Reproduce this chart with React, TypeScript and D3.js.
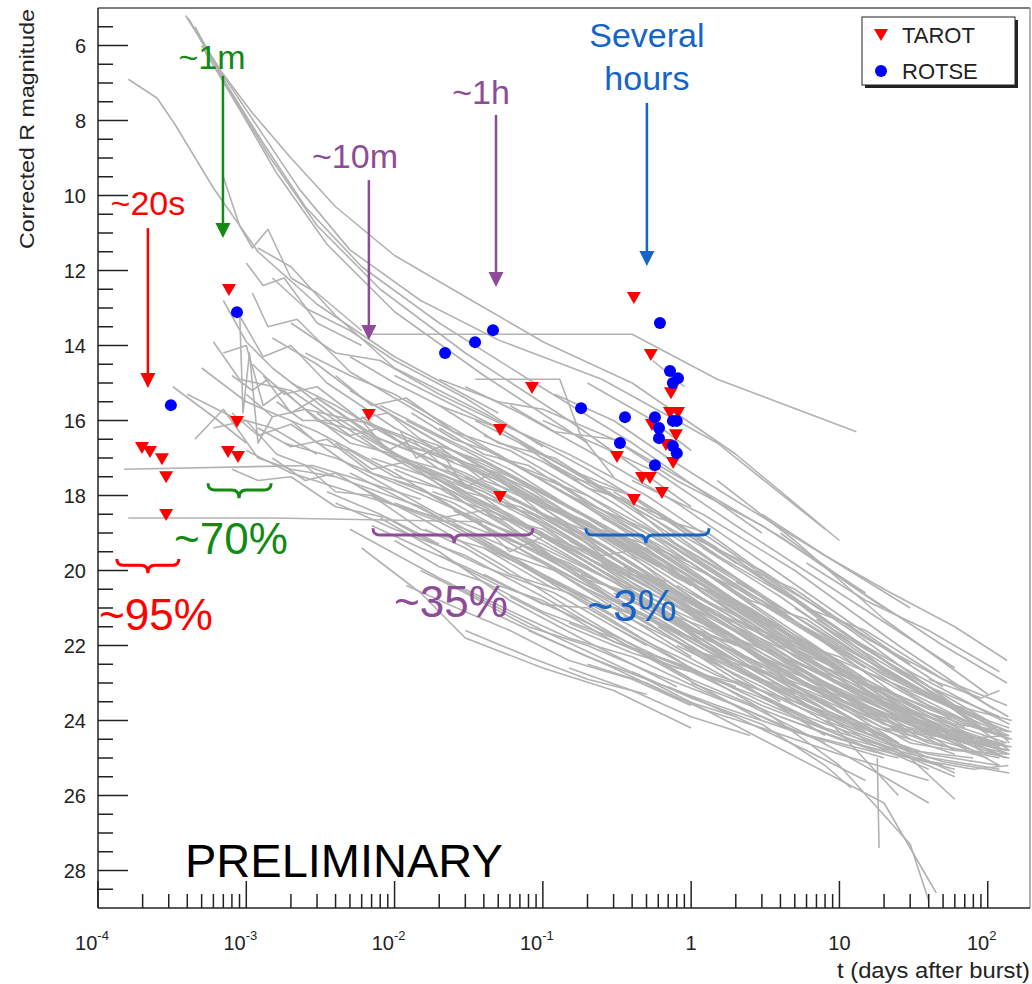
import React from 'react';
import * as d3 from 'd3';

const W = 1032, H = 984;
const FONT = 'Liberation Sans, Arial, Helvetica, sans-serif';

// afterglow light curves, [t (days after burst), corrected R mag]
const lightCurves: [number, number][][] = [
  // bright early bundle
  [[3.9e-4, 5.2], [6.6e-4, 6.65], [1.23e-3, 8.25], [2.3e-3, 9.85], [5e-3, 11.45], [1.5e-2, 12.8], [5e-2, 13.85], [0.25, 14.9], [1.5, 16.6], [8, 18.9]],
  [[4.1e-4, 5.3], [7e-4, 6.9], [1.3e-3, 8.6], [2.5e-3, 10.3], [6e-3, 11.9], [2e-2, 13.4], [8e-2, 14.9], [0.4, 16.6], [3, 19.0]],
  [[4.5e-4, 5.5], [8e-4, 7.3], [1.4e-3, 8.9], [3e-3, 10.8], [8e-3, 12.5], [3e-2, 14.2], [0.15, 16.0], [1, 18.3]],
  [[4e-4, 5.25], [6.8e-4, 6.7], [1.1e-3, 7.8], [2e-3, 9.0], [4e-3, 10.3], [1e-2, 11.6], [3e-2, 12.7], [0.1, 13.9], [0.4, 15.0], [2, 16.9], [10, 19.2]],
  [[5e-4, 6.0], [9e-4, 7.7], [1.6e-3, 9.4], [3.5e-3, 11.3], [1e-2, 13.1], [4e-2, 14.8], [0.2, 16.6]],
  [[1.6e-4, 6.9], [2.5e-4, 7.4], [3.3e-4, 8.1], [6e-4, 9.8], [1.2e-3, 11.5], [3e-3, 12.9], [1e-2, 14.3], [5e-2, 15.8]],
  [[7e-4, 9.5], [9e-4, 10.8], [1.1e-3, 11.4], [1.4e-3, 10.9], [2e-3, 12.2], [3e-3, 12.6], [6e-3, 13.6]],
  [[1.5e-3, 12.2], [2.5e-3, 13.0], [5e-3, 13.6], [1e-2, 14.4], [3e-2, 15.4], [0.1, 16.7]],
  [[2e-3, 13.4], [4e-3, 14.2], [8e-3, 14.4], [2e-2, 15.3], [6e-2, 16.2]],
  [[1e-3, 11.8], [1.3e-3, 12.4], [1.8e-3, 12.2], [3e-3, 13.4], [6e-3, 14.0]],
  // flat / plateau features
  [[7e-3, 13.7], [0.4, 13.7], [1.5, 14.9], [13, 16.3]],
  [[3.5e-2, 14.9], [0.13, 14.9], [0.18, 16.4], [0.3, 17.5]],
  [[0.55, 14.4], [0.9, 15.1]],
  [[1.5e-4, 17.3], [2.8e-3, 17.2], [6e-3, 17.6], [1.5e-2, 18.1]],
  [[1.6e-4, 18.6], [1.5e-3, 18.6], [4e-2, 18.7], [0.1, 19.3]],
  // early starters
  [[5e-4, 14.6], [1e-3, 15.5], [3e-3, 16.3], [1e-2, 17.4], [0.1, 19.8], [1, 22.3]],
  [[6e-4, 13.9], [9e-4, 14.9], [2e-3, 15.2], [8e-3, 16.8], [5e-2, 18.6], [0.5, 21.4]],
  [[7e-4, 12.8], [1e-3, 13.9], [1.5e-3, 14.6], [4e-3, 15.9], [2e-2, 17.6], [0.2, 19.9], [3, 22.6]],
  [[8e-4, 15.8], [1.2e-3, 16.4], [2e-3, 16.1], [5e-3, 17.2], [3e-2, 18.9], [0.3, 21.2]],
  [[9e-4, 13.2], [1.3e-3, 14.3], [2e-3, 14.0], [3.5e-3, 15.0], [1e-2, 16.2], [6e-2, 17.7], [0.6, 20.5], [8, 23.6]],
  [[1e-3, 16.8], [2e-3, 17.4], [6e-3, 18.0], [2e-2, 18.6], [0.15, 20.5]],
  [[6e-4, 16.2], [1e-3, 16.0], [1.6e-3, 16.9], [4e-3, 17.5], [1.5e-2, 18.3], [0.1, 20.2], [1.2, 22.8]],
  [[1.1e-3, 12.6], [1.4e-3, 13.5], [2.2e-3, 13.3], [5e-3, 14.7], [2e-2, 16.1], [0.1, 17.6], [1, 19.8], [15, 22.9]],
  [[1.3e-3, 14.8], [2e-3, 15.8], [3e-3, 15.4], [8e-3, 16.5], [3e-2, 17.4], [0.2, 19.1], [2, 21.6]],
  [[4e-4, 15.3], [8e-4, 15.9], [1.5e-3, 16.2], [3e-3, 16.9]],
  [[7e-4, 14.2], [1e-3, 14.0], [1.3e-3, 15.6], [1.8e-3, 15.2], [3e-3, 16.0], [1e-2, 17.0], [4e-2, 18.0]],
  [[9e-4, 13.0], [9.5e-4, 15.8], [1.05e-3, 14.2], [1.2e-3, 16.6], [1.5e-3, 15.9]],
  [[1.5e-3, 13.8], [3e-3, 14.5], [6e-3, 15.4], [2e-2, 16.6], [8e-2, 17.9], [0.5, 19.6], [4, 21.9]],
  [[2e-3, 15.0], [4e-3, 15.6], [1e-2, 16.5], [5e-2, 17.6], [0.4, 19.8], [3, 22.4], [30, 24.6]],
  [[1.8e-3, 16.6], [4e-3, 17.0], [1.2e-2, 17.8], [6e-2, 19.0], [0.5, 21.0], [5, 23.3]],
  [[2.5e-3, 14.2], [5e-3, 14.8], [1e-2, 15.3], [3e-2, 16.4], [0.15, 18.0], [1, 20.1], [10, 22.6]],
  [[3e-3, 16.0], [6e-3, 16.3], [1.5e-2, 16.9], [5e-2, 17.9], [0.3, 19.5], [2, 21.5], [20, 24.0]],
  [[3.2e-4, 15.1], [6e-4, 15.9], [1e-3, 16.6]],
  [[4.5e-4, 16.5], [7e-4, 15.7], [1.2e-3, 17.0], [2e-3, 17.3], [4e-3, 17.5]],
  [[1.2e-3, 11.4], [2e-3, 11.9], [4e-3, 13.2], [1e-2, 14.6], [4e-2, 15.8], [0.2, 17.3], [1.5, 19.4]],
  [[8e-4, 14.8], [1.1e-3, 15.2], [1.4e-3, 14.9], [2.5e-3, 15.7], [7e-3, 16.1], [2.5e-2, 17.1]],
  [[1.6e-3, 15.5], [2.4e-3, 16.0], [5e-3, 16.0], [1.2e-2, 17.1], [4e-2, 17.9], [0.12, 18.9]],
  [[1e-3, 15.3], [1.5e-3, 15.9], [2.5e-3, 15.7], [5e-3, 16.6], [1e-2, 16.9], [3e-2, 18.0], [0.1, 19.0]],
  [[1.2e-3, 16.2], [2e-3, 16.7], [3.5e-3, 16.5], [7e-3, 17.4], [1.5e-2, 17.8], [4e-2, 18.8], [0.15, 20.0]],
  [[1.5e-3, 17.0], [2.5e-3, 17.6], [4e-3, 17.4], [8e-3, 18.1], [2e-2, 18.7], [6e-2, 19.7], [0.2, 20.8]],
  [[2e-3, 16.0], [3e-3, 16.6], [5e-3, 16.8], [1e-2, 17.5], [2.5e-2, 17.9], [8e-2, 18.9], [0.3, 20.0]],
  [[2.5e-3, 17.2], [4e-3, 17.9], [7e-3, 18.0], [1.5e-2, 18.9], [4e-2, 19.4], [0.12, 20.5]],
  [[3e-3, 15.4], [5e-3, 16.0], [9e-3, 15.8], [2e-2, 16.9], [5e-2, 17.4], [0.15, 18.6], [0.6, 19.9]],
  [[1.1e-3, 14.5], [1.8e-3, 15.3], [3e-3, 15.1], [6e-3, 16.0], [1.5e-2, 16.6], [5e-2, 17.6], [0.2, 18.8], [1, 20.4]],
  [[8e-4, 17.3], [1.2e-3, 17.6], [2e-3, 17.5], [4e-3, 18.3], [9e-3, 18.6], [2e-2, 19.3]],
  [[4e-3, 14.8], [7e-3, 15.6], [1.2e-2, 15.4], [2.5e-2, 16.3], [6e-2, 16.8], [0.2, 18.0], [0.8, 19.3], [4, 21.0]],
  [[5e-3, 14.3], [1e-2, 15.0], [2e-2, 15.6], [5e-2, 16.6], [0.12, 17.0], [0.4, 18.3], [1.5, 19.6]],
  // middle starters
  [[5e-3, 15.2], [1e-2, 15.9], [3e-2, 17.0], [0.1, 18.2], [0.5, 19.9], [3, 22.0], [30, 24.5]],
  [[6e-3, 16.4], [1.5e-2, 17.3], [5e-2, 18.4], [0.2, 19.8], [1, 21.5], [8, 23.7]],
  [[7e-3, 17.0], [2e-2, 17.6], [6e-2, 18.5], [0.3, 20.2], [2, 22.6], [40, 25.0]],
  [[8e-3, 15.6], [2e-2, 16.4], [6e-2, 17.3], [0.2, 18.6], [0.8, 20.1], [5, 22.3], [60, 24.8]],
  [[1e-2, 14.8], [2e-2, 15.4], [5e-2, 16.2], [0.2, 17.6], [1, 19.4], [10, 22.0]],
  [[1e-2, 18.2], [3e-2, 18.9], [0.1, 19.8], [0.5, 21.2], [3, 23.0]],
  [[1.2e-2, 16.0], [3e-2, 16.8], [0.1, 17.9], [0.4, 19.2], [2, 20.9], [20, 23.5], [120, 25.2]],
  [[1.5e-2, 17.2], [4e-2, 17.9], [0.12, 18.9], [0.6, 20.6], [4, 22.7]],
  [[2e-2, 15.6], [5e-2, 16.2], [0.15, 17.3], [0.6, 18.7], [3, 20.7], [30, 23.6]],
  [[2e-2, 18.5], [5e-2, 19.1], [0.2, 20.4], [1, 21.9], [6, 23.6], [60, 25.4]],
  [[2.5e-2, 16.8], [6e-2, 17.5], [0.2, 18.6], [1, 20.3], [8, 22.6], [80, 24.9]],
  [[3e-2, 17.5], [8e-2, 18.3], [0.3, 19.7], [1.5, 21.3], [10, 23.4]],
  [[3e-2, 15.1], [7e-2, 15.8], [0.2, 16.8], [0.8, 18.2], [4, 20.1], [30, 22.5]],
  [[4e-2, 18.0], [0.1, 18.8], [0.4, 20.1], [2, 21.8], [20, 24.1], [135, 24.8]],
  [[4e-2, 16.4], [0.1, 17.1], [0.3, 18.2], [1.2, 19.8], [8, 21.9], [70, 24.2]],
  [[5e-2, 19.0], [0.15, 19.9], [0.5, 20.9], [2, 22.4], [15, 24.3]],
  [[5e-2, 17.0], [0.12, 17.6], [0.4, 18.9], [2, 20.8], [20, 23.5], [135, 24.6]],
  [[6e-2, 16.2], [0.15, 16.9], [0.5, 18.0], [2, 19.6], [12, 21.8], [100, 24.3]],
  [[7e-2, 18.3], [0.2, 19.2], [0.7, 20.6], [3, 22.3], [25, 24.6]],
  [[8e-2, 17.4], [0.2, 18.0], [0.6, 19.2], [2.5, 20.9], [20, 23.4], [130, 25.0]],
  [[1e-2, 17.6], [2.5e-2, 18.2], [8e-2, 19.3], [0.3, 20.8], [1.5, 22.6], [8, 24.4]],
  [[1.5e-2, 16.5], [4e-2, 17.1], [0.15, 18.3], [0.7, 19.8], [5, 22.0]],
  [[6e-3, 17.8], [1.5e-2, 18.6], [5e-2, 19.8], [0.2, 21.3], [1, 22.9]],
  [[4e-3, 18.2], [1e-2, 18.9], [3e-2, 19.6], [0.1, 20.7], [0.5, 22.3], [3, 24.0]],
  [[9e-3, 16.9], [2.5e-2, 17.4], [7e-2, 18.2], [0.25, 19.3], [1, 20.8], [6, 22.6], [50, 24.4]],
  [[1.8e-2, 17.9], [5e-2, 18.5], [0.15, 19.4], [0.6, 20.7], [3, 22.2], [30, 24.3]],
  [[1.1e-2, 16.3], [1.4e-2, 17.0], [2e-2, 16.7], [4e-2, 17.6], [9e-2, 18.1], [0.25, 19.0], [0.9, 20.2]],
  [[2.2e-2, 17.0], [3e-2, 17.8], [4.5e-2, 17.4], [0.1, 18.5], [0.3, 19.2], [1, 20.9], [4, 21.8]],
  [[3.5e-2, 18.6], [6e-2, 19.5], [0.1, 19.1], [0.25, 20.0], [0.8, 21.1], [2.5, 22.0]],
  [[6e-3, 16.0], [9e-3, 16.8], [1.3e-2, 16.5], [3e-2, 17.7], [8e-2, 18.9], [0.2, 19.5], [0.5, 20.6]],
  [[0.1, 17.0], [0.2, 17.8], [0.35, 18.1], [0.8, 19.3], [2, 20.2], [6, 21.6]],
  [[0.12, 18.6], [0.25, 19.6], [0.5, 19.4], [1.2, 20.6], [4, 21.9], [15, 23.0]],
  [[3e-3, 15.8], [5e-3, 16.4], [8e-3, 16.2], [2e-2, 17.3], [5e-2, 18.0], [0.15, 19.3], [0.5, 20.4], [2, 22.0]],
  [[4e-3, 16.6], [7e-3, 17.3], [1.2e-2, 17.1], [3e-2, 18.2], [0.1, 19.4], [0.3, 20.3], [1.5, 22.1]],
  [[5e-3, 17.4], [9e-3, 17.9], [2e-2, 18.6], [4e-2, 18.4], [0.1, 19.5], [0.4, 21.0], [2, 22.8]],
  [[3.5e-3, 17.9], [8e-3, 18.5], [1.5e-2, 19.1], [4e-2, 19.9], [0.12, 20.6], [0.5, 22.0]],
  [[6e-3, 15.9], [1.2e-2, 16.7], [2.5e-2, 17.0], [6e-2, 17.9], [0.15, 18.6], [0.5, 19.8], [2, 21.3], [10, 23.0]],
  [[8e-3, 16.7], [1.5e-2, 17.2], [3e-2, 17.9], [7e-2, 18.3], [0.2, 19.4], [0.6, 20.5], [3, 22.2]],
  [[1e-2, 17.3], [2e-2, 17.8], [4e-2, 18.5], [0.1, 18.9], [0.3, 20.1], [1, 21.4], [5, 23.1], [30, 24.8]],
  [[1.3e-2, 15.8], [2.5e-2, 16.5], [5e-2, 16.9], [0.12, 17.8], [0.4, 19.0], [1.5, 20.5], [6, 22.0]],
  [[1.6e-2, 18.9], [3e-2, 19.4], [6e-2, 20.1], [0.15, 20.6], [0.5, 21.7], [2, 23.0], [8, 24.2]],
  [[2e-2, 16.2], [4e-2, 16.9], [8e-2, 17.2], [0.2, 18.2], [0.7, 19.3], [3, 20.9], [15, 22.6]],
  [[2.5e-2, 17.6], [5e-2, 18.2], [0.1, 18.6], [0.25, 19.5], [0.8, 20.6], [3, 22.1], [15, 23.6]],
  [[3e-2, 18.9], [6e-2, 19.6], [0.12, 20.0], [0.3, 20.9], [1, 22.1], [4, 23.5]],
  [[3.5e-2, 16.0], [7e-2, 16.6], [0.15, 17.5], [0.4, 18.0], [1.2, 19.2], [5, 20.8], [25, 22.9]],
  [[4e-2, 17.3], [8e-2, 17.8], [0.2, 18.8], [0.5, 19.3], [1.5, 20.5], [6, 21.9], [30, 23.8]],
  [[5e-2, 18.5], [0.1, 19.0], [0.25, 19.9], [0.6, 20.3], [2, 21.6], [8, 23.0], [40, 24.6]],
  [[6e-2, 17.8], [0.12, 18.4], [0.3, 19.1], [0.8, 20.2], [2.5, 21.0], [10, 22.6], [60, 24.4]],
  [[7e-2, 16.6], [0.15, 17.3], [0.35, 17.9], [1, 19.1], [3, 20.0], [12, 21.6], [60, 23.6]],
  [[9e-2, 19.5], [0.18, 20.2], [0.4, 20.6], [1, 21.6], [3, 22.5], [10, 23.8]],
  [[2e-2, 14.9], [5e-2, 15.5], [0.1, 15.7], [0.3, 16.5], [1, 17.7], [4, 19.1], [20, 21.0]],
  [[6e-2, 15.6], [0.12, 16.3], [0.3, 16.5], [0.8, 17.6], [3, 18.8], [15, 20.6]],
  // lower half of the band
  [[1e-2, 19.2], [2e-2, 19.9], [4e-2, 20.3], [0.1, 21.1], [0.3, 21.8], [1, 22.9], [4, 23.9], [20, 24.9]],
  [[1.5e-2, 20.0], [3e-2, 20.6], [8e-2, 21.5], [0.2, 22.0], [0.6, 22.8], [2, 23.6], [8, 24.6]],
  [[2e-2, 19.6], [5e-2, 20.4], [0.1, 20.8], [0.3, 21.9], [1, 22.6], [3, 23.5], [15, 24.7], [60, 25.3]],
  [[3e-2, 20.5], [7e-2, 21.2], [0.15, 21.8], [0.4, 22.3], [1.2, 23.2], [5, 24.3], [25, 25.0]],
  [[4e-2, 19.4], [0.1, 20.1], [0.25, 20.9], [0.6, 21.4], [2, 22.4], [8, 23.4], [40, 24.6], [120, 25.0]],
  [[6e-2, 20.7], [0.15, 21.5], [0.4, 22.2], [1, 22.7], [3, 23.6], [12, 24.5], [50, 25.2]],
  [[8e-2, 21.6], [0.2, 22.3], [0.5, 22.9], [1.5, 23.6], [5, 24.3], [20, 25.0]],
  [[0.1, 20.2], [0.25, 20.9], [0.6, 21.3], [1.5, 22.2], [5, 23.1], [20, 24.2], [100, 25.0]],
  [[0.15, 21.4], [0.35, 22.0], [0.8, 22.6], [2, 23.0], [6, 23.9], [25, 24.8]],
  [[0.2, 22.5], [0.5, 23.0], [1.2, 23.7], [3, 24.2], [10, 24.9], [40, 25.6]],
  [[0.25, 19.8], [0.6, 20.6], [1.5, 21.3], [4, 22.3], [12, 23.0], [50, 24.2], [135, 24.7]],
  [[0.35, 21.2], [0.8, 21.9], [2, 22.6], [5, 23.5], [15, 24.1], [60, 24.9]],
  [[0.5, 22.2], [1.2, 22.8], [3, 23.4], [8, 24.2], [30, 24.9], [120, 25.3]],
  [[0.8, 20.4], [2, 21.3], [5, 22.0], [15, 23.0], [50, 23.8], [130, 24.4]],
  [[1.2, 21.8], [3, 22.5], [8, 23.3], [25, 24.0], [80, 24.8], [140, 25.0]],
  [[2, 22.9], [5, 23.6], [12, 24.2], [40, 24.9], [120, 25.2]],
  [[3, 20.9], [8, 21.8], [20, 22.8], [60, 23.7], [140, 24.2]],
  [[5, 23.5], [12, 24.2], [30, 24.8], [80, 25.0]],
  [[1, 23.0], [2.5, 23.6], [7, 24.5], [20, 25.5], [40, 26.2]],
  [[0.7, 23.1], [2, 23.9], [6, 24.8], [15, 25.6]],
  [[0.4, 22.7], [1, 23.4], [3, 24.1], [8, 25.2], [12, 25.8]],
  [[0.15, 22.6], [0.4, 23.2], [1, 23.9], [2.5, 24.4]],
  [[5e-2, 21.2], [0.12, 21.9], [0.3, 22.6], [0.8, 23.4], [2, 23.9]],
  [[3e-2, 21.6], [8e-2, 22.3], [0.2, 22.9], [0.5, 23.3]],
  [[1.2e-2, 20.4], [3e-2, 21.1], [6e-2, 21.6], [0.15, 22.4], [0.4, 22.9], [1, 23.6]],
  [[7e-3, 18.8], [1.5e-2, 19.4], [3e-2, 19.9], [7e-2, 20.6], [0.2, 21.4], [0.6, 22.3], [2, 23.1]],
  [[2.5e-2, 18.4], [6e-2, 19.2], [0.15, 19.8], [0.4, 20.8], [1.2, 21.5], [4, 22.6], [15, 23.5], [60, 24.5]],
  [[4e-2, 20.1], [0.1, 20.9], [0.2, 21.0], [0.5, 21.9], [1.5, 22.8], [5, 23.5], [20, 24.4]],
  [[0.1, 19.3], [0.3, 20.3], [0.7, 20.8], [2, 21.8], [7, 22.7], [25, 23.7], [90, 24.5]],
  [[0.3, 20.6], [0.7, 21.3], [1.8, 21.9], [5, 22.7], [15, 23.6], [50, 24.4], [140, 24.8]],
  [[1.5, 20.8], [4, 21.6], [10, 22.4], [30, 23.2], [100, 24.0]],
  [[2, 21.9], [5, 22.9], [15, 23.6], [40, 24.3], [100, 24.6]],
  [[4, 22.2], [10, 23.0], [25, 23.7], [70, 24.6], [140, 24.9]],
  [[8, 24.0], [20, 24.6], [50, 25.1], [140, 25.4]],
  [[6, 21.9], [15, 22.9], [40, 23.8], [100, 24.3]],
  [[20, 22.6], [40, 23.3], [80, 23.9], [140, 24.3]],
  // lower envelope
  [[6e-3, 19.4], [1.5e-2, 20.6], [3e-2, 21.8], [0.1, 22.6], [0.3, 23.2], [1, 24.2]],
  [[5e-3, 18.9], [2e-2, 20.2], [0.1, 21.6], [0.5, 22.9], [3, 24.5], [20, 26.2], [45, 28.6]],
  [[0.3, 21.5], [1, 22.6], [3, 23.7], [10, 25.2], [30, 27.3], [40, 28.8]],
  [[0.5, 20.8], [2, 22.3], [8, 23.9], [25, 26.0]],
  [[18, 25.0], [18.5, 27.4]],
  [[8e-3, 18.6], [2e-2, 19.5], [6e-2, 20.8], [0.2, 21.9], [0.8, 23.1]],
  // late starters
  [[0.3, 19.0], [1, 20.2], [4, 21.6], [20, 23.4], [100, 24.9]],
  [[0.5, 20.2], [1.5, 21.1], [5, 22.4], [30, 24.1], [135, 25.0]],
  [[0.6, 18.5], [2, 19.7], [8, 21.3], [40, 23.2], [120, 24.3]],
  [[1, 21.0], [3, 22.0], [10, 23.2], [50, 24.7]],
  [[1.2, 19.4], [4, 20.7], [15, 22.3], [80, 24.0], [138, 24.4]],
  [[0.8, 22.0], [3, 23.1], [12, 24.4], [40, 25.3]],
  [[2, 20.3], [6, 21.4], [25, 22.9], [100, 24.0], [140, 24.6]],
  [[3, 21.6], [10, 22.6], [40, 23.7], [138, 24.5]],
  [[0.4, 17.6], [1.2, 18.5], [5, 20.0], [25, 22.0], [110, 23.7]],
  [[5, 21.0], [15, 22.2], [60, 23.6], [145, 24.0]],
  [[0.2, 20.5], [0.8, 21.6], [3, 22.9], [15, 24.5], [60, 25.5]],
  [[8, 22.8], [30, 23.9], [120, 24.9]],
  [[0.15, 18.0], [0.5, 18.9], [2, 20.4], [10, 22.1]],
  [[1.5, 17.6], [5, 19.2], [20, 21.3], [100, 23.3]],
  [[4, 19.0], [12, 20.4], [50, 22.0], [135, 23.0]],
  [[10, 22.0], [50, 23.5], [140, 24.8]],
  [[20, 24.2], [60, 24.5], [140, 24.4]],
  [[15, 23.8], [50, 24.2], [138, 24.7]],
  [[40, 22.9], [90, 23.4], [120, 23.2]],
  [[6, 23.0], [20, 24.0], [70, 24.6], [130, 24.6]],
  [[2.5, 22.8], [8, 23.5], [30, 25.0], [60, 26.1]],
  [[0.1, 18.2], [0.2, 18.7], [0.45, 19.6], [1.2, 20.4], [4, 21.7], [15, 23.0], [80, 24.5]],
  [[0.12, 17.2], [0.25, 17.9], [0.6, 18.5], [1.5, 19.6], [5, 20.8], [20, 22.4], [100, 24.0]],
  [[0.15, 19.2], [0.3, 19.9], [0.7, 20.3], [2, 21.5], [6, 22.4], [25, 23.8], [120, 24.7]],
  [[0.18, 20.1], [0.4, 20.7], [1, 21.6], [2.5, 22.1], [8, 23.3], [30, 24.3]],
  [[0.25, 18.6], [0.5, 19.2], [1, 19.9], [3, 20.8], [10, 22.1], [40, 23.4], [135, 24.3]],
  [[0.3, 17.9], [0.6, 18.6], [1.3, 19.0], [4, 20.4], [12, 21.5], [50, 23.1]],
  [[0.35, 19.9], [0.7, 20.5], [1.5, 21.2], [4, 21.9], [12, 23.1], [50, 24.2], [140, 24.9]],
  [[0.45, 21.0], [0.9, 21.7], [2, 22.4], [6, 23.1], [20, 24.1], [80, 24.8]],
  [[0.5, 19.3], [1, 19.8], [2.5, 20.8], [6, 21.3], [20, 22.7], [90, 24.1]],
  [[0.6, 21.5], [1.2, 22.2], [3, 22.7], [8, 23.6], [25, 24.6]],
  [[0.7, 20.0], [1.5, 20.7], [4, 21.8], [10, 22.3], [35, 23.5], [140, 24.5]],
  [[0.9, 18.9], [2, 19.8], [5, 20.5], [15, 21.8], [50, 22.9], [135, 23.6]],
  [[1, 20.6], [2.5, 21.4], [6, 22.4], [20, 23.2], [70, 24.3], [140, 24.7]],
  [[1.3, 22.3], [3, 23.0], [8, 23.8], [25, 24.6]],
  [[1.8, 21.2], [4, 22.0], [10, 22.6], [30, 23.7], [100, 24.6]],
  [[2.5, 20.0], [6, 21.0], [15, 21.6], [50, 22.9], [138, 23.9]],
  [[3.5, 21.8], [8, 22.6], [20, 23.3], [60, 24.1], [145, 24.3]],
  [[5, 22.6], [12, 23.3], [30, 24.0], [90, 24.6], [145, 24.7]],
  [[7, 21.3], [15, 22.1], [40, 23.1], [120, 23.9]],
  [[9, 23.2], [20, 23.8], [50, 24.3], [135, 24.8]],
  [[12, 21.8], [30, 22.7], [80, 23.6], [140, 24.1]],
  [[4, 23.9], [10, 24.5], [30, 25.0], [80, 25.3], [138, 25.2]],
  [[25, 23.1], [50, 23.7], [100, 24.3], [145, 24.5]],
  [[30, 24.6], [60, 24.8], [135, 24.9]],
  [[3, 18.5], [8, 19.6], [20, 20.5], [60, 21.5], [135, 22.4]],
  [[6, 19.8], [15, 20.8], [40, 21.6], [120, 22.7]],
  // near the fast-response points
  [[0.12, 15.3], [0.3, 16.0], [0.7, 17.0], [1.6, 17.9], [6, 19.3], [30, 21.0]],
  [[0.1, 16.0], [0.25, 16.7], [0.6, 17.4], [2, 18.8], [10, 20.6], [60, 22.6]],
  [[0.2, 15.0], [0.5, 15.9], [1, 16.8]],
];

// fast-response telescope points
const tarotT = [7.64e-4, 1.98e-4, 2.24e-4, 2.7e-4, 2.88e-4, 2.88e-4, 8.65e-4, 7.53e-4, 8.79e-4, 6.7e-3, 8.45e-2, 5.14e-2, 5.14e-2,
  0.411, 0.535, 0.731, 0.72, 0.815, 0.544, 0.79, 0.676, 0.756, 0.316, 0.466, 0.527, 0.635, 0.411];
const tarotMag = [12.52, 16.73, 16.84, 17.03, 17.51, 18.52, 16.04, 16.84, 16.97, 15.85, 15.13, 16.25, 18.04,
  12.73, 14.25, 15.27, 15.8, 15.8, 16.12, 16.39, 16.65, 17.13, 16.97, 17.53, 17.53, 17.93, 18.12];
const rotseT = [3.1e-4, 8.65e-4, 2.19e-2, 3.49e-2, 4.61e-2, 0.181, 0.358, 0.331, 0.57, 0.616, 0.72, 0.815, 0.753,
  0.753, 0.8, 0.607, 0.607, 0.753, 0.8, 0.57];
const rotseMag = [15.59, 13.11, 14.2, 13.91, 13.59, 15.67, 15.91, 16.6, 15.91, 13.4, 14.68, 14.87, 15.0,
  16.01, 16.01, 16.2, 16.47, 16.68, 16.87, 17.19];

// response-time annotations
const delayLabels = [['~20s'], ['~1m'], ['~10m'], ['~1h'], ['Several', 'hours']];
const delayColors = ['#ff0000', '#138a13', '#8e4b98', '#8e4b98', '#1565c8'];
const delayArrowT = [2.17e-4, 6.96e-4, 6.71e-3, 4.83e-2, 0.503];
const delayArrowFrom = [10.87, 6.81, 9.59, 7.85, 7.53];
const delayArrowTo = [15.13, 11.13, 13.85, 12.44, 11.88];
const delayLabelT = [2.17e-4, 5.87e-4, 5.41e-3, 3.83e-2, 0.503];
const delayLabelMag = [[10.52], [6.63], [9.27], [7.56], [6.04, 7.19]];

// coverage braces
const braceLabels = ['~95%', '~70%', '~35%', '~3%'];
const braceColors = ['#ff0000', '#138a13', '#8e4b98', '#1565c8'];
const braceT0 = [1.34e-4, 5.52e-4, 7.15e-3, 0.195];
const braceT1 = [3.51e-4, 1.47e-3, 8.57e-2, 1.32];
const braceTc = [2.17e-4, 8.93e-4, 2.52e-2, 0.495];
const braceTop = [19.69, 17.67, 18.87, 18.87];
const braceTip = [20.07, 18.07, 19.27, 19.27];
const braceLabelT = [2.46e-4, 7.88e-4, 2.4e-2, 0.399];
const braceLabelMag = [21.59, 19.56, 21.24, 21.35];

const yTicks = [6, 8, 10, 12, 14, 16, 18, 20, 22, 24, 26, 28];
const xDecades = [1e-4, 1e-3, 1e-2, 1e-1, 1, 10, 100];
const xDecadeBase = ['10', '10', '10', '10', '1', '10', '10'];
const xDecadeExp = ['-4', '-3', '-2', '-1', '', '', '2'];

const x = d3.scaleLog().domain([1e-4, 192.8]).range([98, 1030]);
const y = d3.scaleLinear().domain([5, 29]).range([8, 908]);

const tri = 'M-7,-6L7,-6L0,6Z';

function brace(x0: number, x1: number, xc: number, yTop: number, yTip: number) {
  const yMid = yTop + (yTip - yTop) * 0.45;
  const r = 7;
  return `M${x0},${yTop}Q${x0},${yMid} ${x0 + r},${yMid}L${xc - r},${yMid}Q${xc},${yMid} ${xc},${yTip}` +
    `Q${xc},${yMid} ${xc + r},${yMid}L${x1 - r},${yMid}Q${x1},${yMid} ${x1},${yTop}`;
}

export default function App() {
  const line = d3.line<[number, number]>().x((d) => x(d[0])).y((d) => y(d[1]));
  const [left, right] = x.range();
  const [top, bottom] = y.range();

  const minorX: number[] = [];
  for (let i = 0; i < xDecades.length; i++) {
    for (let k = 2; k <= 9; k++) {
      const v = xDecades[i] * k;
      if (v < 192.8) minorX.push(v);
    }
  }
  const minorY: number[] = [];
  for (let v = 5.5; v < 29; v += 0.5) if (v % 2 !== 0) minorY.push(v);

  return (
    <svg width={W} height={H} style={{ position: 'absolute', left: 0, top: 0, background: '#fff' }} fontFamily={FONT}>
      <defs>
        <clipPath id="plot">
          <rect x={left} y={top} width={right - left} height={bottom - top} />
        </clipPath>
      </defs>

      <g clipPath="url(#plot)" fill="none" stroke="#b2b2b2" strokeWidth={1.6} strokeLinejoin="round">
        {lightCurves.map((c, i) => <path key={i} d={line(c) || ''} />)}
      </g>

      {/* frame */}
      <line x1={left} x2={right} y1={top} y2={top} stroke="#555" strokeWidth={1.5} />
      <line x1={right} x2={right} y1={top} y2={bottom} stroke="#999" strokeWidth={1.5} />
      <line x1={left} x2={left} y1={top} y2={bottom} stroke="#222" strokeWidth={1.5} />
      <line x1={left} x2={right} y1={bottom} y2={bottom} stroke="#222" strokeWidth={1.5} />

      {/* y ticks */}
      {yTicks.map((v) => (
        <g key={v}>
          <line x1={left} x2={left + 30} y1={y(v)} y2={y(v)} stroke="#222" strokeWidth={1.5} />
          <text x={86} y={y(v)} dy="0.36em" textAnchor="end" fontSize={20} fill="#222">{v}</text>
        </g>
      ))}
      {minorY.map((v) => (
        <line key={v} x1={left} x2={left + 15} y1={y(v)} y2={y(v)} stroke="#222" strokeWidth={1.5} />
      ))}

      {/* x ticks */}
      {xDecades.map((v, i) => (
        <g key={v}>
          <line x1={x(v)} x2={x(v)} y1={bottom} y2={bottom - 27} stroke="#222" strokeWidth={1.5} />
          <text x={x(v) - (xDecadeExp[i] ? 6 : 0)} y={950} textAnchor="middle" fontSize={20} fill="#222">
            {xDecadeBase[i]}
            {xDecadeExp[i] && <tspan fontSize={13} dy={-10}>{xDecadeExp[i]}</tspan>}
          </text>
        </g>
      ))}
      {minorX.map((v) => (
        <line key={v} x1={x(v)} x2={x(v)} y1={bottom} y2={bottom - 14} stroke="#222" strokeWidth={1.5} />
      ))}

      <text x={1030} y={978} textAnchor="end" fontSize={22} fill="#222" textLength={193} lengthAdjust="spacingAndGlyphs">
        t (days after burst)
      </text>
      <text transform="translate(34,9) rotate(-90)" textAnchor="end" fontSize={21} fill="#222" textLength={240} lengthAdjust="spacingAndGlyphs">
        Corrected R magnitude
      </text>

      {/* points */}
      {tarotT.map((t, i) => (
        <path key={'t' + i} d={tri} transform={`translate(${x(t)},${y(tarotMag[i])})`} fill="#ff0000" />
      ))}
      {rotseT.map((t, i) => (
        <circle key={'r' + i} cx={x(t)} cy={y(rotseMag[i])} r={6} fill="#0000ff" />
      ))}

      {/* delay arrows */}
      {delayLabels.map((lab, i) => {
        const ax = x(delayArrowT[i]);
        const y0 = y(delayArrowFrom[i]);
        const y1 = y(delayArrowTo[i]);
        const c = delayColors[i];
        return (
          <g key={'d' + i}>
            <line x1={ax} x2={ax} y1={y0} y2={y1 - 14} stroke={c} strokeWidth={2.5} />
            <path d={`M${ax - 7.5},${y1 - 15}L${ax + 7.5},${y1 - 15}L${ax},${y1}Z`} fill={c} />
            {lab.map((s, j) => (
              <text key={j} x={x(delayLabelT[i])} y={y(delayLabelMag[i][j])} textAnchor="middle" fontSize={34} fill={c}>{s}</text>
            ))}
          </g>
        );
      })}

      {/* coverage braces */}
      {braceLabels.map((lab, i) => (
        <g key={'b' + i}>
          <path d={brace(x(braceT0[i]), x(braceT1[i]), x(braceTc[i]), y(braceTop[i]), y(braceTip[i]))}
            fill="none" stroke={braceColors[i]} strokeWidth={3} />
          <text x={x(braceLabelT[i])} y={y(braceLabelMag[i])} textAnchor="middle" fontSize={44} fill={braceColors[i]}>{lab}</text>
        </g>
      ))}

      <text x={185} y={877} fontSize={47} fill="#000">PRELIMINARY</text>

      {/* legend */}
      <rect x={865} y={20} width={153} height={68} fill="#222" />
      <rect x={862} y={17} width={153} height={68} fill="#fff" stroke="#222" strokeWidth={1} />
      <path d={tri} transform="translate(881,35)" fill="#ff0000" />
      <text x={902} y={43} fontSize={22} fill="#222">TAROT</text>
      <circle cx={881} cy={71} r={6} fill="#0000ff" />
      <text x={902} y={79} fontSize={22} fill="#222">ROTSE</text>
    </svg>
  );
}
